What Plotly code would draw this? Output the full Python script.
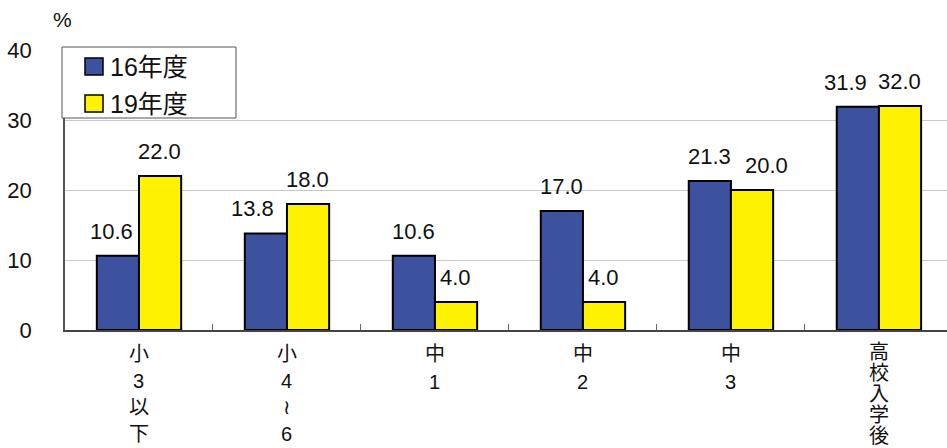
import plotly.graph_objects as go

# Data
categories = ["小3以下", "小4~6", "中1", "中2", "中3", "高校入学後"]
label_lines = [["小", "3", "以", "下"], ["小", "4", "≀", "6"], ["中", "1"], ["中", "2"], ["中", "3"],
               ["高", "校", "入", "学", "後"]]
series_names = ["16年度", "19年度"]
values_16 = [10.6, 13.8, 10.6, 17.0, 21.3, 31.9]
values_19 = [22.0, 18.0, 4.0, 4.0, 20.0, 32.0]

BLUE = "#3D529E"
YELLOW = "#FFF200"
FONT = "Liberation Sans, Noto Sans CJK JP, DejaVu Sans, sans-serif"
INK = "#111111"

# plot area in pixels: x 65..947, y 50..330
L, R, T, B = 65, 947, 50, 330


def px(x):
    return (x - L) / (R - L)


def py(y):
    return (B - y) / (B - T)


fig = go.Figure()
series = [(series_names[0], values_16, BLUE, -21), (series_names[1], values_19, YELLOW, 21)]
for name, vals, color, _ in series:
    fig.add_trace(go.Bar(
        x=categories, y=vals, name=name, showlegend=False,
        marker=dict(color=color, line=dict(color="black", width=2)),
    ))

annotations = []
shapes = []

# value labels above the bars (a few nudged sideways so neighbours don't collide)
nudge = {(0, 0): -6, (0, 1): -13, (1, 4): 15, (0, 5): -12}
for si, (name, vals, color, shift) in enumerate(series):
    for ci, (c, v) in enumerate(zip(categories, vals)):
        annotations.append(dict(
            x=c, y=v, xref="x", yref="y", text=f"{v:.1f}", showarrow=False,
            xshift=shift + nudge.get((si, ci), 0), yshift=10, yanchor="bottom",
            font=dict(family=FONT, size=22, color=INK),
        ))

# stacked vertical category labels
line_steps = [26.5, 26.5, 28, 28, 28, 21]
line_start = [24, 24, 24, 24, 24, 22]
for c, chars, step, start in zip(categories, label_lines, line_steps, line_start):
    for i, ch in enumerate(chars):
        annotations.append(dict(
            x=c, y=0, xref="x", yref="y", text=ch, showarrow=False,
            yshift=-(start + step * i), yanchor="middle",
            font=dict(family=FONT, size=20, color=INK),
        ))

# unit label
annotations.append(dict(
    x=px(62), y=py(20), xref="paper", yref="paper", text="%", showarrow=False,
    xanchor="center", yanchor="middle", font=dict(family=FONT, size=21, color=INK),
))

# legend box
shapes.append(dict(type="rect", xref="paper", yref="paper", layer="above",
                   x0=px(62), x1=px(236), y0=py(118), y1=py(47),
                   fillcolor="white", line=dict(color="#555555", width=1)))
for (name, _, color, _), (top, bot) in zip(series, [(58, 75), (95, 112)]):
    shapes.append(dict(type="rect", xref="paper", yref="paper", layer="above",
                       x0=px(85), x1=px(103), y0=py(bot), y1=py(top),
                       fillcolor=color, line=dict(color="black", width=1.5)))
    annotations.append(dict(
        x=px(108), y=py((top + bot) / 2), xref="paper", yref="paper", text=name,
        showarrow=False, xanchor="left", yanchor="middle",
        font=dict(family=FONT, size=25, color=INK),
    ))

fig.update_layout(
    width=947, height=448,
    margin=dict(l=L, r=0, t=T, b=448 - B),
    paper_bgcolor="white", plot_bgcolor="white",
    barmode="group", bargap=0.43, bargroupgap=0,
    showlegend=False,
    annotations=annotations, shapes=shapes,
)
fig.update_xaxes(
    range=[-0.5, 5.46], showticklabels=False,
    showline=True, linecolor="#444444", linewidth=2,
    ticks="inside", tickson="boundaries", ticklen=6, tickcolor="#666666",
    showgrid=False,
)
fig.update_yaxes(
    range=[0, 40], tickvals=[0, 10, 20, 30, 40],
    showline=True, linecolor="#555555", linewidth=1.5,
    showgrid=True, gridcolor="#c8c8c8", gridwidth=1,
    tickfont=dict(family=FONT, size=22, color=INK),
    ticklabelstandoff=27, zeroline=False,
)

fig.write_html("out.html")
